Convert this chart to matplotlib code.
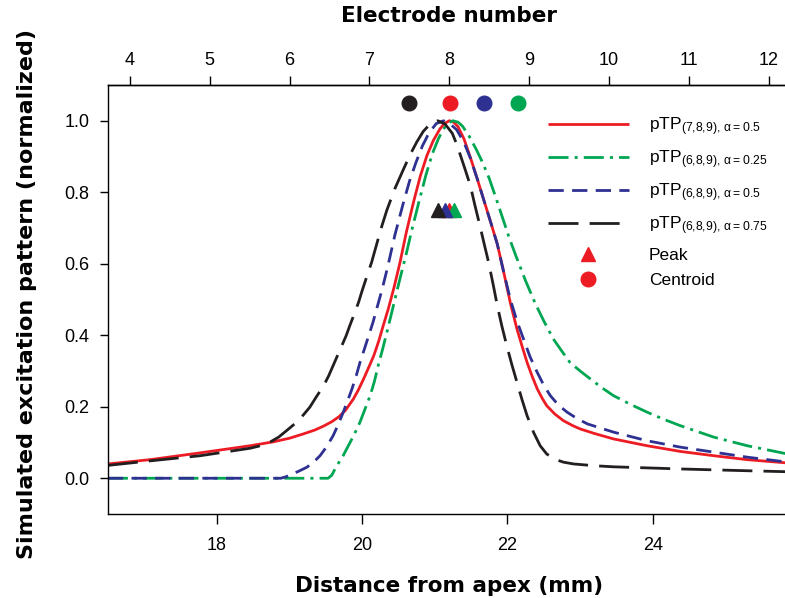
import matplotlib
matplotlib.use("Agg")
import matplotlib.pyplot as plt
from matplotlib.lines import Line2D

plt.rcParams['font.family'] = ['Liberation Sans', 'DejaVu Sans']
plt.rcParams['mathtext.default'] = 'regular'

# ---- excitation patterns: distance from apex (mm) and normalized excitation ----
mm_779_a050 = [16.5, 17.08, 17.77, 18.46, 18.78, 19.0, 19.19, 19.35, 19.47, 19.58,
               19.68, 19.77, 19.88, 19.95, 20.02, 20.09, 20.16, 20.23, 20.29, 20.36,
               20.44, 20.52, 20.61, 20.71, 20.80, 20.89, 20.98, 21.07, 21.13, 21.2,
               21.26, 21.32, 21.40, 21.49, 21.58, 21.67, 21.76, 21.86, 21.95, 22.04,
               22.13, 22.2, 22.27, 22.34, 22.41, 22.48, 22.54, 22.65, 22.77, 22.9,
               23.0, 23.2, 23.46, 23.92, 24.38, 24.84, 25.3, 25.9]
val_779_a050 = [0.040, 0.052, 0.071, 0.091, 0.102, 0.112, 0.124, 0.135, 0.146, 0.158,
                0.172, 0.190, 0.222, 0.248, 0.278, 0.310, 0.343, 0.385, 0.427, 0.474,
                0.535, 0.603, 0.690, 0.775, 0.845, 0.902, 0.945, 0.977, 0.992, 1.0,
                0.996, 0.983, 0.950, 0.897, 0.840, 0.781, 0.722, 0.655, 0.575, 0.490,
                0.418, 0.370, 0.324, 0.285, 0.250, 0.223, 0.203, 0.180, 0.161, 0.147,
                0.138, 0.125, 0.110, 0.091, 0.075, 0.063, 0.052, 0.042]

mm_689_a025 = [16.5, 19.53, 19.58, 19.65, 19.73, 19.81, 19.89, 19.97, 20.04, 20.11,
               20.17, 20.22, 20.28, 20.34, 20.43, 20.51, 20.60, 20.69, 20.79, 20.88,
               20.97, 21.05, 21.12, 21.18, 21.25, 21.32, 21.38, 21.47, 21.57, 21.66,
               21.75, 21.84, 21.93, 22.02, 22.12, 22.25, 22.38, 22.5, 22.63, 22.75,
               22.86, 23.0, 23.14, 23.3, 23.46, 23.7, 23.92, 24.15, 24.38, 24.84,
               25.3, 25.9]
val_689_a025 = [0.0, 0.0, 0.008, 0.035, 0.060, 0.091, 0.122, 0.157, 0.194, 0.231,
                0.272, 0.315, 0.360, 0.408, 0.483, 0.550, 0.622, 0.700, 0.780, 0.850,
                0.910, 0.950, 0.977, 0.993, 1.0, 0.996, 0.985, 0.958, 0.920, 0.882,
                0.838, 0.785, 0.730, 0.675, 0.620, 0.552, 0.490, 0.440, 0.390, 0.355,
                0.324, 0.300, 0.278, 0.253, 0.231, 0.206, 0.185, 0.165, 0.147, 0.115,
                0.091, 0.066]

mm_689_a050 = [16.5, 18.88, 18.95, 19.01, 19.12, 19.24, 19.33, 19.42, 19.51, 19.60,
               19.67, 19.74, 19.80, 19.86, 19.92, 19.97, 20.03, 20.09, 20.15, 20.20,
               20.27, 20.35, 20.45, 20.56, 20.65, 20.74, 20.83, 20.92, 21.02, 21.12,
               21.2, 21.3, 21.4, 21.49, 21.58, 21.67, 21.76, 21.86, 21.95, 22.04,
               22.13, 22.22, 22.31, 22.41, 22.5, 22.59, 22.7, 22.82, 22.95, 23.1,
               23.46, 23.92, 24.38, 24.84, 25.3, 25.9]
val_689_a050 = [0.0, 0.0, 0.004, 0.010, 0.019, 0.031, 0.045, 0.063, 0.088, 0.119,
                0.150, 0.185, 0.217, 0.250, 0.288, 0.324, 0.361, 0.399, 0.437, 0.474,
                0.525, 0.590, 0.680, 0.765, 0.830, 0.883, 0.930, 0.966, 0.992, 1.0,
                0.993, 0.975, 0.940, 0.895, 0.840, 0.781, 0.722, 0.655, 0.575, 0.500,
                0.440, 0.390, 0.340, 0.296, 0.260, 0.231, 0.205, 0.185, 0.168, 0.152,
                0.129, 0.105, 0.087, 0.073, 0.059, 0.044]

mm_689_a075 = [16.5, 17.1, 17.77, 18.1, 18.46, 18.6, 18.73, 18.85, 18.97, 19.10,
               19.19, 19.28, 19.37, 19.47, 19.54, 19.60, 19.66, 19.72, 19.78, 19.83,
               19.89, 19.95, 20.0, 20.06, 20.13, 20.2, 20.27, 20.34, 20.45, 20.57,
               20.66, 20.75, 20.84, 20.94, 21.04, 21.14, 21.24, 21.3, 21.35, 21.42,
               21.49, 21.55, 21.62, 21.68, 21.74, 21.8, 21.86, 21.92, 21.99, 22.06,
               22.13, 22.2, 22.27, 22.36, 22.45, 22.54, 22.64, 22.77, 22.91, 23.2,
               23.46, 24.38, 25.3, 25.9]
val_689_a075 = [0.036, 0.049, 0.063, 0.073, 0.084, 0.091, 0.101, 0.115, 0.135, 0.157,
                0.177, 0.199, 0.228, 0.259, 0.287, 0.315, 0.343, 0.371, 0.399, 0.427,
                0.459, 0.492, 0.525, 0.562, 0.604, 0.655, 0.705, 0.750, 0.810, 0.865,
                0.905, 0.940, 0.970, 0.992, 1.0, 0.991, 0.965, 0.935, 0.905, 0.862,
                0.818, 0.765, 0.707, 0.655, 0.604, 0.545, 0.483, 0.428, 0.371, 0.318,
                0.269, 0.220, 0.175, 0.128, 0.091, 0.068, 0.054, 0.045, 0.040, 0.035,
                0.032, 0.026, 0.021, 0.018]

# peak and centroid locations (mm), one per configuration in legend order
peak_mm = [21.20, 21.27, 21.14, 21.04]
centroid_mm = [21.21, 22.15, 21.68, 20.65]
peak_level = 0.75
centroid_level = 1.05

series_labels = [r'pTP$_{(7{,}8{,}9){,}\ α=0.5}$',
                 r'pTP$_{(6{,}8{,}9){,}\ α=0.25}$',
                 r'pTP$_{(6{,}8{,}9){,}\ α=0.5}$',
                 r'pTP$_{(6{,}8{,}9){,}\ α=0.75}$']
colors = ['#ED1C24', '#00A651', '#2E3192', '#231F20']
dashes = [None, (7.2, 2.2, 1.1, 2.2), (5.5, 3.0), (10.8, 4.0)]

bottom_ticks = [18, 20, 22, 24]
left_ticks = [0.0, 0.2, 0.4, 0.6, 0.8, 1.0]
electrode_ticks = list(range(4, 13))

# electrode 8 sits at 21.2 mm, contacts spaced 1.1 mm apart
EL_REF, MM_REF, PITCH = 8, 21.2, 1.1


def mm_to_el(x):
    return EL_REF + (x - MM_REF) / PITCH


def el_to_mm(e):
    return MM_REF + PITCH * (e - EL_REF)


fig = plt.figure(figsize=(7.85, 5.98), dpi=100)
ax = fig.add_axes([107.9 / 785, 84 / 598, 682.9 / 785, 429 / 598])

curves = [(mm_779_a050, val_779_a050), (mm_689_a025, val_689_a025),
          (mm_689_a050, val_689_a050), (mm_689_a075, val_689_a075)]
handles = []
for (xs, ys), c, d, lab in zip(curves, colors, dashes, series_labels):
    ln, = ax.plot(xs, ys, color=c, lw=2.0, label=lab, solid_capstyle='butt',
                  solid_joinstyle='round')
    if d is not None:
        ln.set_dashes(d)
    handles.append(ln)

for pm, cm, c in zip(peak_mm, centroid_mm, colors):
    ax.plot([pm], [peak_level], marker='^', ms=10, color=c, ls='none')
    ax.plot([cm], [centroid_level], marker='o', ms=10.5, color=c, ls='none')

ax.set_xlim(16.5, 25.9)
ax.set_ylim(-0.1, 1.1)
ax.set_xticks(bottom_ticks)
ax.set_xticklabels([str(t) for t in bottom_ticks])
ax.set_yticks(left_ticks)
ax.set_yticklabels(['%.1f' % t for t in left_ticks])
for s in ax.spines.values():
    s.set_linewidth(1.0)
ax.tick_params(axis='x', direction='out', length=7, width=1.0, pad=9.5, labelsize=13)
ax.tick_params(axis='y', direction='out', length=6, width=1.0, pad=7.5, labelsize=13)

sec = ax.secondary_xaxis('top', functions=(mm_to_el, el_to_mm))
sec.set_xticks(electrode_ticks)
sec.set_xticklabels([str(t) for t in electrode_ticks])
sec.tick_params(direction='out', length=6.5, width=1.0, pad=5, labelsize=13)
sec.spines['top'].set_linewidth(1.0)
sec.set_xlabel('Electrode number', family='DejaVu Sans', fontweight='bold',
               fontsize=15.5, labelpad=21.5)

ax.set_xlabel('Distance from apex (mm)', family='DejaVu Sans', fontweight='bold',
              fontsize=15.5)
ax.xaxis.set_label_coords(0.5, -0.144)
ax.set_ylabel('Simulated excitation pattern (normalized)', family='DejaVu Sans',
              fontweight='bold', fontsize=16)
ax.yaxis.set_label_coords(-0.104, 0.513)

peak_handle = Line2D([], [], marker='^', ms=10, color=colors[0], ls='none')
cent_handle = Line2D([], [], marker='o', ms=10.5, color=colors[0], ls='none')
ax.legend(handles + [peak_handle, cent_handle], series_labels + ['Peak', 'Centroid'],
          loc='upper left', bbox_to_anchor=(0.644, 0.929), frameon=False,
          fontsize=12.5, handlelength=4.7, handletextpad=1.13, labelspacing=0.6,
          borderpad=0, borderaxespad=0)

fig.savefig('out.png', dpi=100)
